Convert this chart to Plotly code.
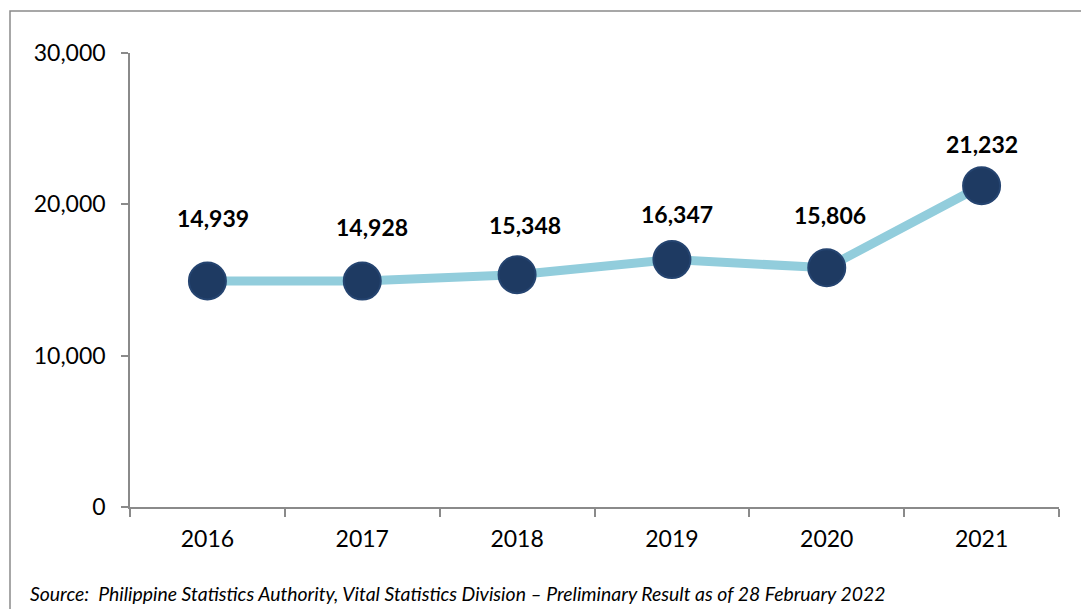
import plotly.graph_objects as go

years = ["2016", "2017", "2018", "2019", "2020", "2021"]
values = [14939, 14928, 15348, 16347, 15806, 21232]
y_ticks = [0, 10000, 20000, 30000]
source_text = "Source:  Philippine Statistics Authority, Vital Statistics Division \u2013 Preliminary Result as of 28 February 2022"

label_yshift = [63, 54, 50, 46, 53, 42]
label_xshift = [6, 10, 8, 5, 3, 0]

fig = go.Figure()
fig.add_trace(go.Scatter(
    x=years, y=values, mode="lines+markers",
    line=dict(color="#92CDDC", width=9),
    marker=dict(size=37, color="#1E3A62", line=dict(color="#254470", width=2)),
    hoverinfo="skip", showlegend=False,
))

for i, v in enumerate(values):
    fig.add_annotation(
        x=i, y=v, text=f"<b>{v:,}</b>", showarrow=False,
        yshift=label_yshift[i], xshift=label_xshift[i],
        font=dict(family="Lato", size=23, color="#000000"),
    )

fig.add_annotation(
    xref="paper", yref="paper", x=(28 - 130) / 929, y=(507 - 593) / 454,
    xanchor="left", yanchor="middle", showarrow=False,
    text=f"<i>{source_text}</i>",
    font=dict(family="Lato", size=19.4, color="#000000"),
)

fig.add_shape(
    type="rect", xref="paper", yref="paper",
    x0=(10 - 130) / 929, x1=(1100 - 130) / 929,
    y0=(507 - 620) / 454, y1=(507 - 11) / 454,
    line=dict(color="#8A8A8A", width=1.5), fillcolor="rgba(0,0,0,0)", layer="below",
)

fig.update_layout(
    width=1081, height=601,
    margin=dict(l=122, r=30, t=45, b=102),
    paper_bgcolor="white", plot_bgcolor="white",
    font=dict(family="Lato", size=23, color="#000000"),
    xaxis=dict(
        type="category", range=[-0.5, 5.5], tickson="boundaries", ticks="outside", ticklen=8,
        tickcolor="#8A8A8A", tickwidth=1.5, showline=True, linecolor="#8A8A8A",
        linewidth=1.5, showgrid=False, zeroline=False, ticklabelstandoff=11,
        tickangle=0, automargin=False,
        tickfont=dict(family="Lato", size=23),
    ),
    yaxis=dict(
        range=[0, 30000], tickvals=y_ticks, tickformat=",d", ticks="outside",
        ticklen=7, tickcolor="#8A8A8A", tickwidth=1.5, showline=True,
        linecolor="#8A8A8A", linewidth=1.5, showgrid=False, zeroline=False,
        ticklabelstandoff=11, automargin=False, tickfont=dict(family="Lato", size=23),
    ),
)

fig.write_html("out.html")
